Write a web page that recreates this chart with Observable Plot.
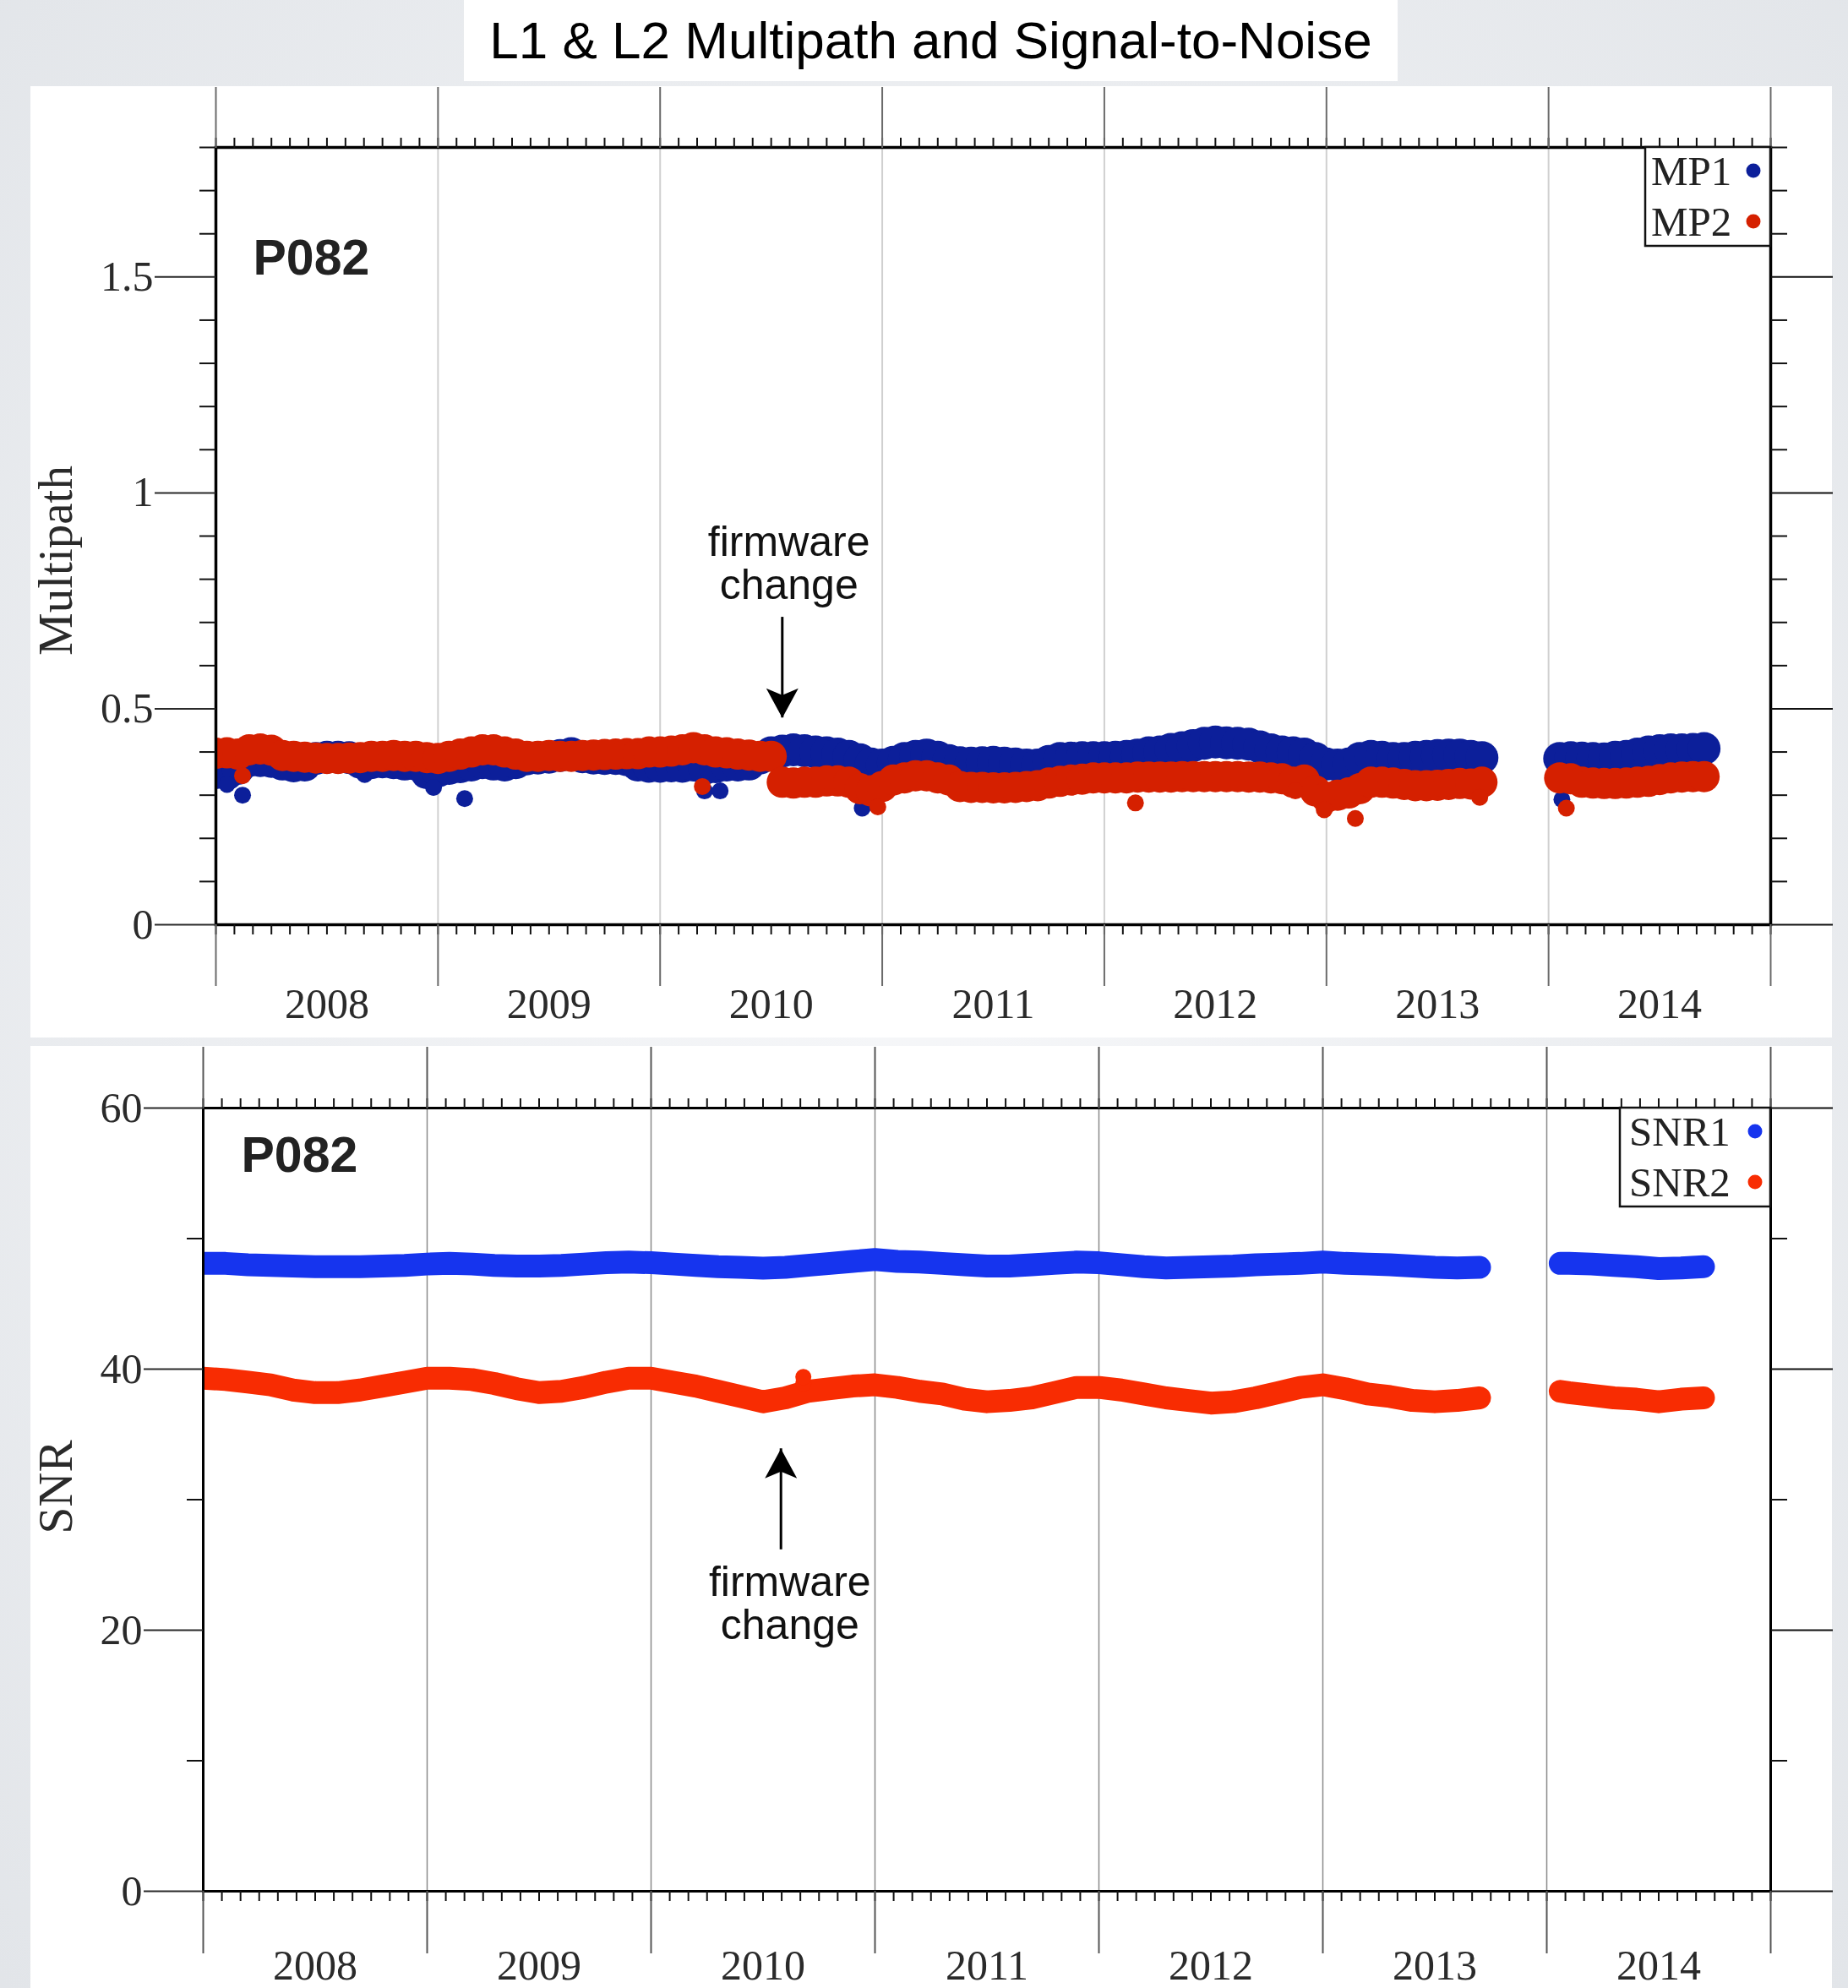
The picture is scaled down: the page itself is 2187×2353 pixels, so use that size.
<!DOCTYPE html>
<html>
<head>
<meta charset="utf-8">
<script src="https://cdn.jsdelivr.net/npm/d3@7"></script>
<script src="https://cdn.jsdelivr.net/npm/@observablehq/plot@0.6"></script>
<style>
html, body { margin: 0; padding: 0; }
body {
  width: 2187px; height: 2353px; position: relative; overflow: hidden;
  background: radial-gradient(ellipse at 50% 48%, #f6f7f9 0%, #eceef1 55%, #e2e5e9 100%);
}
#title {
  position: absolute; left: 549px; top: 0; width: 1105px; height: 96px; background: #fff;
  font-family: "Liberation Sans", Arial, sans-serif; font-size: 62px; line-height: 96px;
  text-align: center; color: #000;
}
#top { position: absolute; left: 36px; top: 102px; }
#bottom { position: absolute; left: 36px; top: 1238px; }
svg { display: block; }
</style>
</head>
<body>
<div id="title">L1 &amp; L2 Multipath and Signal-to-Noise</div>
<div id="top"></div>
<div id="bottom"></div>
<script>
// ---------------- data ----------------
const station = "P082";
const yearBounds = [2008, 2009, 2010, 2011, 2012, 2013, 2014, 2015];
const innerYears = [2009, 2010, 2011, 2012, 2013, 2014];
const yearLabels = [2008, 2009, 2010, 2011, 2012, 2013, 2014];
const mpMajor = [0, 0.5, 1, 1.5];
const mpMinor = [0.1, 0.2, 0.3, 0.4, 0.6, 0.7, 0.8, 0.9, 1.1, 1.2, 1.3, 1.4, 1.6, 1.7, 1.8];
const snrMajor = [0, 20, 40, 60];
const snrMinor = [10, 30, 50];

// multipath samples (decimal year)
const mpTimes = [
  2008.00,2008.05,2008.10,2008.15,2008.20,2008.25,2008.30,2008.35,2008.40,2008.45,
  2008.50,2008.55,2008.60,2008.65,2008.70,2008.75,2008.80,2008.85,2008.90,2008.95,
  2009.00,2009.05,2009.10,2009.15,2009.20,2009.25,2009.30,2009.35,2009.40,2009.45,
  2009.50,2009.55,2009.60,2009.65,2009.70,2009.75,2009.80,2009.85,2009.90,2009.95,
  2010.00,2010.05,2010.10,2010.15,2010.20,2010.25,2010.30,2010.35,2010.40,2010.45,
  2010.50,2010.55,2010.60,2010.65,2010.70,2010.75,2010.80,2010.85,2010.90,2010.95,
  2011.00,2011.05,2011.10,2011.15,2011.20,2011.25,2011.30,2011.35,2011.40,2011.45,
  2011.50,2011.55,2011.60,2011.65,2011.70,2011.75,2011.80,2011.85,2011.90,2011.95,
  2012.00,2012.05,2012.10,2012.15,2012.20,2012.25,2012.30,2012.35,2012.40,2012.45,
  2012.50,2012.55,2012.60,2012.65,2012.70,2012.75,2012.80,2012.85,2012.90,2012.95,
  2013.00,2013.05,2013.10,2013.15,2013.20,2013.25,2013.30,2013.35,2013.40,2013.45,
  2013.50,2013.55,2013.60,2013.65,2013.70,
  2013.85,
  2014.05,2014.10,2014.15,2014.20,2014.25,2014.30,2014.35,2014.40,2014.45,2014.50,2014.55,2014.60,2014.65,2014.70
];
const mp1 = [
  0.352,0.350,0.362,0.380,0.380,0.378,0.372,0.368,0.370,0.385,
  0.388,0.388,0.387,0.376,0.375,0.377,0.375,0.372,0.372,0.352,
  0.356,0.362,0.366,0.370,0.375,0.372,0.370,0.375,0.384,0.386,
  0.388,0.392,0.396,0.389,0.386,0.385,0.385,0.382,0.370,0.367,
  0.367,0.368,0.367,0.370,0.362,0.366,0.370,0.370,0.372,0.386,
  0.398,0.402,0.405,0.403,0.400,0.398,0.395,0.390,0.382,0.372,
  0.370,0.376,0.385,0.390,0.393,0.388,0.380,0.375,0.374,0.375,
  0.376,0.374,0.372,0.370,0.370,0.378,0.385,0.386,0.387,0.387,
  0.387,0.388,0.390,0.393,0.398,0.400,0.406,0.410,0.415,0.420,
  0.423,0.421,0.420,0.418,0.412,0.405,0.400,0.398,0.395,0.385,
  0.372,0.370,0.372,0.385,0.390,0.388,0.385,0.385,0.388,0.390,
  0.392,0.393,0.393,0.390,0.387,
  null,
  0.385,0.387,0.386,0.385,0.384,0.388,0.390,0.395,0.400,0.403,0.405,0.405,0.406,0.408
];
const mp2 = [
  0.397,0.398,0.395,0.405,0.407,0.404,0.392,0.390,0.388,0.386,
  0.385,0.385,0.386,0.387,0.390,0.390,0.392,0.390,0.390,0.387,
  0.385,0.390,0.395,0.400,0.405,0.405,0.400,0.395,0.390,0.390,
  0.392,0.390,0.390,0.392,0.393,0.394,0.395,0.396,0.396,0.400,
  0.400,0.402,0.405,0.410,0.405,0.400,0.398,0.395,0.393,0.390,
  0.390,0.330,0.328,0.330,0.330,0.333,0.333,0.330,0.315,0.310,
  0.320,0.335,0.340,0.345,0.345,0.340,0.335,0.320,0.318,0.318,
  0.317,0.317,0.318,0.320,0.322,0.328,0.332,0.335,0.337,0.340,
  0.340,0.340,0.340,0.342,0.342,0.342,0.342,0.343,0.343,0.343,
  0.343,0.343,0.343,0.342,0.342,0.340,0.338,0.330,0.335,0.310,
  0.295,0.300,0.305,0.315,0.330,0.330,0.328,0.325,0.322,0.322,
  0.323,0.325,0.327,0.326,0.330,
  null,
  0.340,0.338,0.330,0.328,0.327,0.327,0.328,0.330,0.332,0.336,0.340,0.342,0.343,0.343
];
// isolated low outliers
const mp1OutTimes = [2008.05, 2008.12, 2008.67, 2008.98, 2009.12, 2010.20, 2010.27, 2010.91, 2014.06];
const mp1OutValues = [0.325, 0.300, 0.348, 0.318, 0.292, 0.310, 0.310, 0.270, 0.290];
const mp2OutTimes = [2008.12, 2010.19, 2010.98, 2012.14, 2012.86, 2012.99, 2013.13, 2013.69, 2014.08];
const mp2OutValues = [0.345, 0.320, 0.273, 0.282, 0.310, 0.266, 0.246, 0.295, 0.270];

// SNR samples
const snrTimes = [
  2008.0,2008.1,2008.2,2008.3,2008.4,2008.5,2008.6,2008.7,2008.8,2008.9,
  2009.0,2009.1,2009.2,2009.3,2009.4,2009.5,2009.6,2009.7,2009.8,2009.9,
  2010.0,2010.1,2010.2,2010.3,2010.4,2010.5,2010.6,2010.7,2010.8,2010.9,
  2011.0,2011.1,2011.2,2011.3,2011.4,2011.5,2011.6,2011.7,2011.8,2011.9,
  2012.0,2012.1,2012.2,2012.3,2012.4,2012.5,2012.6,2012.7,2012.8,2012.9,
  2013.0,2013.1,2013.2,2013.3,2013.4,2013.5,2013.6,2013.7,
  2013.85,
  2014.06,2014.1,2014.2,2014.3,2014.4,2014.5,2014.6,2014.7
];
const snr1 = [
  48.1,48.1,48.0,47.95,47.9,47.85,47.85,47.85,47.9,47.95,
  48.05,48.1,48.05,47.95,47.9,47.9,47.95,48.05,48.15,48.2,
  48.15,48.05,47.95,47.85,47.8,47.73,47.8,47.95,48.1,48.25,
  48.4,48.25,48.2,48.1,48.0,47.9,47.9,48.0,48.1,48.2,
  48.15,48.0,47.85,47.75,47.8,47.85,47.9,48.0,48.05,48.1,
  48.2,48.1,48.05,48.0,47.9,47.8,47.75,47.8,
  null,
  48.1,48.1,48.05,47.95,47.85,47.7,47.75,47.85
];
const snr2 = [
  39.3,39.2,39.0,38.8,38.4,38.2,38.2,38.4,38.7,39.0,
  39.3,39.3,39.2,38.9,38.5,38.2,38.3,38.6,39.0,39.3,
  39.3,39.0,38.7,38.3,37.9,37.5,37.8,38.3,38.5,38.7,
  38.8,38.6,38.3,38.1,37.7,37.5,37.6,37.8,38.2,38.6,
  38.6,38.4,38.1,37.8,37.6,37.4,37.5,37.8,38.2,38.6,
  38.8,38.5,38.1,37.9,37.6,37.5,37.6,37.8,
  null,
  38.3,38.2,38.0,37.8,37.7,37.5,37.7,37.8
];
const snr2SpikeTimes = [2010.68, 2010.68];
const snr2SpikeValues = [38.9, 39.4];

const colors = { mp1: "#0c1f9a", mp2: "#d52000", snr1: "#1634ee", snr2: "#f82c02" };
const mpLegend = [{label: "MP1", color: colors.mp1}, {label: "MP2", color: colors.mp2}];
const snrLegend = [{label: "SNR1", color: colors.snr1}, {label: "SNR2", color: colors.snr2}];
const mpNote = [{textX: 2010.58, textY: 0.837, arrowX: 2010.55, tail: 0.712, tip: 0.479, label: "firmware\nchange"}];
const snrNote = [{textX: 2010.62, textY: 22.04, arrowX: 2010.58, tail: 26.16, tip: 33.9, label: "firmware\nchange"}];

// ---------------- helpers ----------------
const monthTicks = d3.range(0, 7 * 12 + 1).map(i => 2008 + i / 12);
const SERIF = "'Liberation Serif', 'Times New Roman', serif";
const SANS = "'Liberation Sans', Arial, sans-serif";
const blank = () => "";

const mpRows = mpTimes.map((t, i) => ({t, mp1: mp1[i], mp2: mp2[i]}));
const mp1Out = mp1OutTimes.map((t, i) => ({t, v: mp1OutValues[i]}));
const mp2Out = mp2OutTimes.map((t, i) => ({t, v: mp2OutValues[i]}));
const snrRows = snrTimes.map((t, i) => ({t, snr1: snr1[i], snr2: snr2[i]}));
const snrSpike = snr2SpikeTimes.map((t, i) => ({t, v: snr2SpikeValues[i]}));

function arrowHead(dir) {
  return {
    draw(ctx, size) {
      const k = Math.sqrt(size / Math.PI) / 19;
      ctx.moveTo(0, 0);
      ctx.lineTo(-19 * k, -35 * k * dir);
      ctx.lineTo(0, -27 * k * dir);
      ctx.lineTo(19 * k, -35 * k * dir);
      ctx.closePath();
    }
  };
}

function legendMark(entries, {boxWidth, boxHeight, textFromRight, dotFromRight, rowY}) {
  return (index, scales, values, dims) => {
    const right = dims.width - dims.marginRight;
    const top = dims.marginTop;
    const g = d3.create("svg:g");
    g.append("rect")
      .attr("x", right - boxWidth).attr("y", top)
      .attr("width", boxWidth).attr("height", boxHeight)
      .attr("fill", "#fff").attr("stroke", "#111").attr("stroke-width", 2.5);
    entries.forEach((e, i) => {
      g.append("text")
        .attr("x", right - textFromRight).attr("y", top + rowY[i]).attr("dy", "0.34em")
        .attr("text-anchor", "start")
        .attr("font-family", SERIF).attr("font-size", 49).attr("fill", "#222")
        .text(e.label);
      g.append("circle")
        .attr("cx", right - dotFromRight).attr("cy", top + rowY[i]).attr("r", 8.5)
        .attr("fill", e.color);
    });
    return g.node();
  };
}

function frameAxes({major, minor, majorLeft, right, topYear, bottomYear, yearStroke, fmt, labelDy}) {
  return [
    Plot.axisY({ticks: minor, anchor: "left", tickSize: 19, tickFormat: blank, strokeWidth: 2, color: "#111"}),
    Plot.axisY({ticks: major, anchor: "left", tickSize: majorLeft, tickPadding: 2, tickFormat: fmt,
      strokeWidth: 2, color: "#2a2a2a", fontSize: 50, fontFamily: SERIF}),
    Plot.axisY({ticks: minor, anchor: "right", tickSize: 19, tickFormat: blank, strokeWidth: 2, color: "#111"}),
    Plot.axisY({ticks: major, anchor: "right", tickSize: right, tickFormat: blank, strokeWidth: 2, color: "#111"}),
    Plot.axisX({ticks: monthTicks, anchor: "top", tickSize: 12, tickFormat: blank, strokeWidth: 2, color: "#111"}),
    Plot.axisX({ticks: monthTicks, anchor: "bottom", tickSize: 12, tickFormat: blank, strokeWidth: 2, color: "#111"}),
    Plot.axisX({ticks: yearBounds, anchor: "top", tickSize: topYear, tickFormat: blank, strokeWidth: 2, color: yearStroke}),
    Plot.axisX({ticks: yearBounds, anchor: "bottom", tickSize: bottomYear, tickFormat: blank, strokeWidth: 2, color: yearStroke}),
    Plot.text(yearLabels, {x: d => d + 0.5, frameAnchor: "bottom", dy: labelDy, text: d => String(d),
      textAnchor: "middle", lineAnchor: "middle", fontSize: 50, fontFamily: SERIF, fill: "#2a2a2a"})
  ];
}

function noteMarks(note, dir) {
  return [
    Plot.ruleX(note, {x: "arrowX", y1: "tail", y2: "tip", stroke: "#000", strokeWidth: 3}),
    Plot.dot(note, {x: "arrowX", y: "tip", symbol: arrowHead(dir), r: 19, fill: "#000", stroke: "none"}),
    Plot.text(note, {x: "textX", y: "textY", text: "label", fontSize: 50, fontFamily: SANS,
      lineHeight: 1.02, textAnchor: "middle", lineAnchor: "middle", fill: "#111"})
  ];
}

// ---------------- top panel: multipath ----------------
const topPlot = Plot.plot({
  width: 2132, height: 1126,
  marginLeft: 219, marginRight: 73, marginTop: 72, marginBottom: 134,
  x: {domain: [2008, 2015]},
  y: {domain: [0, 1.8]},
  style: {background: "#fff", fontFamily: SERIF, color: "#111", overflow: "visible"},
  marks: [
    Plot.gridX({ticks: innerYears, stroke: "#d0d0d0", strokeOpacity: 1, strokeWidth: 2}),
    Plot.dot(mpRows, {x: "t", y: "mp1", r: 19.5, fill: colors.mp1, clip: true}),
    Plot.dot(mp1Out, {x: "t", y: "v", r: 10, fill: colors.mp1, clip: true}),
    Plot.dot(mpRows, {x: "t", y: "mp2", r: 18.5, fill: colors.mp2, clip: true}),
    Plot.dot(mp2Out, {x: "t", y: "v", r: 10, fill: colors.mp2, clip: true}),
    Plot.frame({stroke: "#000", strokeWidth: 3.5}),
    ...frameAxes({major: mpMajor, minor: mpMinor, majorLeft: 72, right: 73, topYear: 72, bottomYear: 73,
      yearStroke: "#6a6a6a", fmt: d => String(d), labelDy: 94}),
    Plot.text(["Multipath"], {frameAnchor: "left", dx: -189, dy: 29, rotate: -90, text: d => d,
      textAnchor: "middle", lineAnchor: "middle", fontSize: 57, fontFamily: SERIF, fill: "#2a2a2a"}),
    Plot.text([station], {frameAnchor: "top-left", dx: 44, dy: 132, text: d => d, textAnchor: "start",
      lineAnchor: "middle", fontSize: 59, fontWeight: "bold", fontFamily: SANS, fill: "#222"}),
    ...noteMarks(mpNote, 1),
    legendMark(mpLegend, {boxWidth: 148, boxHeight: 117, textFromRight: 141, dotFromRight: 20, rowY: [28, 88]})
  ]
});
document.getElementById("top").appendChild(topPlot);

// ---------------- bottom panel: SNR ----------------
const bottomPlot = Plot.plot({
  width: 2132, height: 1115,
  marginLeft: 204, marginRight: 73, marginTop: 73, marginBottom: 115,
  x: {domain: [2008, 2015]},
  y: {domain: [0, 60]},
  style: {background: "#fff", fontFamily: SERIF, color: "#111", overflow: "visible"},
  marks: [
    Plot.gridX({ticks: innerYears, stroke: "#8a8a8a", strokeOpacity: 1, strokeWidth: 1.5}),
    Plot.line(snrRows, {x: "t", y: "snr1", stroke: colors.snr1, strokeWidth: 27,
      strokeLinecap: "round", strokeLinejoin: "round", clip: true}),
    Plot.line(snrRows, {x: "t", y: "snr2", stroke: colors.snr2, strokeWidth: 27,
      strokeLinecap: "round", strokeLinejoin: "round", clip: true}),
    Plot.dot(snrSpike, {x: "t", y: "v", r: 9.5, fill: colors.snr2}),
    Plot.frame({stroke: "#000", strokeWidth: 3}),
    ...frameAxes({major: snrMajor, minor: snrMinor, majorLeft: 70, right: 73, topYear: 73, bottomYear: 74,
      yearStroke: "#555", fmt: d => String(d), labelDy: 88}),
    Plot.text(["SNR"], {frameAnchor: "left", dx: -174, dy: -15, rotate: -90, text: d => d,
      textAnchor: "middle", lineAnchor: "middle", fontSize: 57, fontFamily: SERIF, fill: "#2a2a2a"}),
    Plot.text([station], {frameAnchor: "top-left", dx: 45, dy: 57, text: d => d, textAnchor: "start",
      lineAnchor: "middle", fontSize: 59, fontWeight: "bold", fontFamily: SANS, fill: "#222"}),
    ...noteMarks(snrNote, -1),
    legendMark(snrLegend, {boxWidth: 178, boxHeight: 117, textFromRight: 167, dotFromRight: 18, rowY: [28, 88]})
  ]
});
document.getElementById("bottom").appendChild(bottomPlot);
</script>
</body>
</html>
